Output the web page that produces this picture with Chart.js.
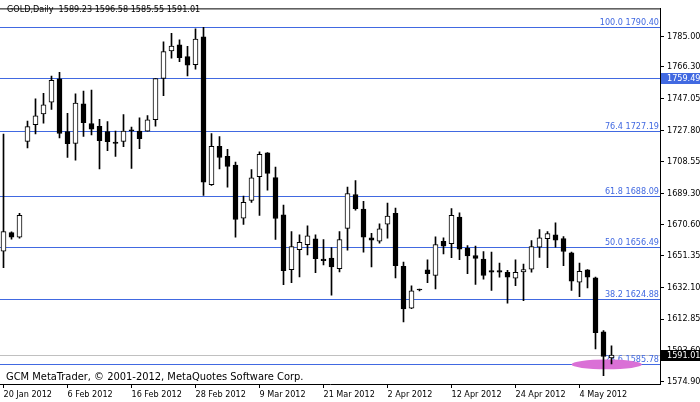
<!DOCTYPE html>
<html>
<head>
<meta charset="utf-8">
<script src="https://cdn.jsdelivr.net/npm/chart.js@4.4.1/dist/chart.umd.min.js"></script>
<style>
  html, body { margin: 0; padding: 0; background: #fff; overflow: hidden; }
  canvas { display: block; }
</style>
</head>
<body>
<canvas id="goldChart" width="700" height="402"></canvas>
<script>
// GOLD daily bars (index 0 = leftmost bar)
const opens = [
  1654.2, 1665.5, 1662.7, 1721.0, 1731.2, 1737.8, 1744.9, 1759.1, 1727.0, 1719.8,
  1743.9, 1731.9, 1730.2, 1727.0, 1720.6, 1721.0, 1727.6, 1727.3, 1727.3, 1734.2,
  1759.3, 1776.0, 1779.8, 1772.6, 1767.7, 1784.6, 1694.7, 1718.0, 1712.0, 1706.6,
  1674.3, 1685.1, 1699.5, 1714.0, 1699.0, 1676.3, 1643.0, 1655.2, 1658.2, 1661.8,
  1649.4, 1650.0, 1643.6, 1668.1, 1688.7, 1679.9, 1662.4, 1660.3, 1670.7, 1677.3,
  1645.0, 1619.6, 1630.6, 1642.8, 1639.4, 1660.2, 1658.8, 1674.9, 1656.0, 1651.6,
  1649.4, 1642.4, 1642.4, 1641.4, 1637.8, 1641.6, 1643.2, 1656.6, 1661.8, 1664.2,
  1661.9, 1653.2, 1635.4, 1642.8, 1638.0, 1605.1, 1589.23
];
const highs = [
  1725.4, 1666.0, 1677.3, 1733.3, 1746.9, 1750.3, 1760.8, 1763.1, 1738.1, 1749.9,
  1751.7, 1752.3, 1734.5, 1733.1, 1727.3, 1737.3, 1729.7, 1735.4, 1736.7, 1759.3,
  1781.6, 1786.8, 1782.8, 1778.8, 1789.5, 1790.4, 1725.8, 1724.0, 1716.2, 1708.4,
  1687.7, 1703.8, 1714.6, 1714.2, 1705.4, 1682.3, 1666.1, 1664.2, 1669.7, 1664.2,
  1661.3, 1656.4, 1666.1, 1693.2, 1697.2, 1684.5, 1665.1, 1670.9, 1683.5, 1680.5,
  1647.6, 1633.2, 1631.2, 1649.0, 1663.0, 1662.4, 1680.1, 1677.5, 1657.6, 1657.3,
  1654.0, 1653.6, 1647.0, 1642.6, 1649.0, 1646.4, 1660.6, 1667.3, 1666.1, 1671.5,
  1663.1, 1653.6, 1647.0, 1643.0, 1638.4, 1605.9, 1596.58
];
const lows = [
  1644.2, 1661.5, 1662.1, 1717.0, 1725.5, 1732.1, 1740.5, 1723.2, 1711.2, 1709.6,
  1724.0, 1724.9, 1704.2, 1715.4, 1711.8, 1717.8, 1704.6, 1716.6, 1727.3, 1730.3,
  1748.9, 1771.6, 1769.6, 1760.8, 1765.0, 1688.1, 1694.2, 1704.2, 1693.2, 1662.7,
  1670.5, 1683.9, 1675.9, 1691.4, 1661.3, 1633.8, 1635.0, 1638.6, 1652.0, 1641.2,
  1645.8, 1627.4, 1641.6, 1654.9, 1679.1, 1653.6, 1644.6, 1659.1, 1662.1, 1638.0,
  1611.1, 1619.3, 1630.0, 1635.0, 1631.3, 1652.6, 1650.2, 1649.0, 1640.6, 1634.0,
  1637.2, 1630.4, 1638.4, 1622.6, 1633.2, 1624.1, 1641.4, 1650.4, 1644.2, 1656.6,
  1645.4, 1630.4, 1626.5, 1631.9, 1594.8, 1578.4, 1585.55
];
const closes = [
  1666.1, 1662.7, 1676.1, 1730.0, 1736.6, 1743.3, 1758.1, 1725.8, 1719.6, 1744.3,
  1732.4, 1728.5, 1721.4, 1720.8, 1719.8, 1727.3, 1727.4, 1722.6, 1734.2, 1759.3,
  1775.6, 1779.0, 1771.9, 1767.4, 1783.2, 1696.2, 1718.0, 1711.2, 1705.8, 1673.5,
  1683.9, 1698.9, 1713.2, 1701.6, 1674.1, 1642.4, 1657.0, 1659.6, 1663.6, 1649.6,
  1648.4, 1644.6, 1661.2, 1689.3, 1680.1, 1662.7, 1660.9, 1667.8, 1675.5, 1645.4,
  1619.0, 1630.1, 1630.6, 1640.6, 1658.2, 1657.3, 1676.1, 1655.5, 1651.4, 1649.8,
  1639.4, 1641.4, 1641.4, 1638.4, 1641.4, 1643.0, 1657.0, 1662.4, 1664.9, 1660.9,
  1654.0, 1636.0, 1642.0, 1638.4, 1604.7, 1590.1, 1591.01
];

// axis labels
const xTickIndex = [0, 8, 16, 24, 32, 40, 48, 56, 64, 72];
const xTickLabels = ['20 Jan 2012', '6 Feb 2012', '16 Feb 2012', '28 Feb 2012', '9 Mar 2012',
  '21 Mar 2012', '2 Apr 2012', '12 Apr 2012', '24 Apr 2012', '4 May 2012'];
const yTicks = [1785.00, 1766.30, 1747.05, 1727.80, 1708.55, 1689.30, 1670.60, 1651.35,
  1632.10, 1612.85, 1593.60, 1574.90];

// objects on the chart
const fibPercents = ['100.0', '76.4', '61.8', '50.0', '38.2', '23.6'];
const fibPrices = [1790.40, 1727.19, 1688.09, 1656.49, 1624.88, 1585.78];
const hLinePrice = 1759.49;
const bidPrice = 1591.01;
const ellipseCenter = [75.4, 1585.3];
const ellipseRadius = [4.4, 3.0];

const FONT_FAMILY = '"DejaVu Sans Condensed", "Liberation Sans", sans-serif';
const FONT = '9px ' + FONT_FAMILY;
const BLUE = '#4169e1';

Chart.defaults.font.family = FONT_FAMILY;
Chart.defaults.font.size = 9;
Chart.defaults.color = '#000';

const bodyColors = opens.map((o, i) => closes[i] > o ? '#ffffff' : '#000000');

const overlay = {
  id: 'overlay',
  beforeDatasetsDraw(chart) {
    const { ctx, chartArea: a, scales: { x, y } } = chart;
    ctx.save();
    ctx.beginPath();
    ctx.rect(a.left, a.top, a.right - a.left, a.bottom - a.top);
    ctx.clip();
    ctx.lineWidth = 1;

    // bid line
    let py = Math.round(y.getPixelForValue(bidPrice)) + 0.5;
    ctx.strokeStyle = '#c0c0c0';
    ctx.beginPath(); ctx.moveTo(a.left, py); ctx.lineTo(a.right, py); ctx.stroke();

    // horizontal line + fibo levels
    ctx.strokeStyle = BLUE;
    [hLinePrice].concat(fibPrices).forEach(p => {
      const yy = Math.round(y.getPixelForValue(p)) + 0.5;
      ctx.beginPath(); ctx.moveTo(a.left, yy); ctx.lineTo(a.right, yy); ctx.stroke();
    });
    ctx.font = FONT;
    ctx.fillStyle = BLUE;
    ctx.textAlign = 'right';
    ctx.textBaseline = 'alphabetic';
    fibPrices.forEach((p, i) => {
      const yy = Math.round(y.getPixelForValue(p));
      ctx.fillText(fibPercents[i] + ' ' + p.toFixed(2), a.right - 1, yy - 2);
    });

    // ellipse
    const cx = x.getPixelForValue(ellipseCenter[0]);
    const cy = y.getPixelForValue(ellipseCenter[1]);
    const rx = x.getPixelForValue(ellipseCenter[0] + ellipseRadius[0]) - cx;
    const ry = cy - y.getPixelForValue(ellipseCenter[1] + ellipseRadius[1]);
    ctx.fillStyle = '#da70d6';
    ctx.beginPath(); ctx.ellipse(cx, cy, rx, ry, 0, 0, Math.PI * 2); ctx.fill();
    ctx.restore();
  },
  afterDraw(chart) {
    const { ctx, chartArea: a, scales: { y } } = chart;
    ctx.save();
    ctx.lineWidth = 1;
    ctx.strokeStyle = '#000';
    ctx.beginPath();
    ctx.moveTo(a.left, a.top + 0.5);
    ctx.lineTo(a.right, a.top + 0.5);
    ctx.stroke();

    ctx.font = FONT;
    ctx.fillStyle = '#000';
    ctx.textAlign = 'left';
    ctx.textBaseline = 'middle';
    const n = closes.length - 1;
    ctx.fillText('GOLD,Daily  ' + [opens[n], highs[n], lows[n], closes[n]].map(v => v.toFixed(2)).join(' '), 7, 10);
    ctx.font = '11px ' + FONT_FAMILY;
    ctx.fillText('GCM MetaTrader, \u00a9 2001-2012, MetaQuotes Software Corp.', 6, 377);

    // price tags on the axis
    ctx.font = FONT;
    const tag = (price, bg) => {
      const yy = Math.round(y.getPixelForValue(price));
      ctx.fillStyle = bg;
      ctx.fillRect(a.right + 1, yy - 5, chart.width - a.right - 1, 11);
      ctx.fillStyle = '#fff';
      ctx.fillText(price.toFixed(2), a.right + 7, yy + 0.5);
    };
    tag(hLinePrice, BLUE);
    tag(bidPrice, '#000');
    ctx.restore();
  }
};

const xMin = -0.4375;
const xMax = xMin + 660 / 8;

new Chart(document.getElementById('goldChart'), {
  type: 'bar',
  data: {
    datasets: [
      {
        label: 'body',
        data: opens.map((o, i) => ({ x: i, y: [o, closes[i]] })),
        backgroundColor: bodyColors,
        borderColor: '#000',
        borderWidth: 1,
        borderSkipped: false,
        barThickness: 5,
        minBarLength: 1,
        grouped: false
      },
      {
        label: 'wick',
        data: lows.map((l, i) => ({ x: i, y: [l, highs[i]] })),
        backgroundColor: '#000',
        borderWidth: 0,
        barThickness: 1,
        grouped: false
      }
    ]
  },
  options: {
    responsive: false,
    devicePixelRatio: 1,
    animation: false,
    events: [],
    layout: { padding: { top: 2, left: 0, right: 0, bottom: 0 } },
    plugins: { legend: { display: false }, tooltip: { enabled: false } },
    scales: {
      x: {
        type: 'linear',
        min: xMin,
        max: xMax,
        offset: false,
        grid: { offset: false, drawOnChartArea: false, tickLength: 4, color: '#000' },
        border: { color: '#000' },
        ticks: {
          autoSkip: false,
          maxRotation: 0,
          align: 'start',
          padding: 1,
          callback: v => xTickLabels[xTickIndex.indexOf(v)]
        },
        afterBuildTicks: s => { s.ticks = xTickIndex.map(v => ({ value: v })); },
        afterFit: s => { s.height = 18; }
      },
      y: {
        position: 'right',
        min: 1573.39,
        max: 1801.94,
        grid: { drawOnChartArea: false, tickLength: 4, color: '#000' },
        border: { color: '#000' },
        ticks: { padding: 3, callback: v => v.toFixed(2) },
        afterBuildTicks: s => { s.ticks = yTicks.map(v => ({ value: v })); },
        afterFit: s => { s.width = 40; }
      }
    }
  },
  plugins: [overlay]
});
</script>
</body>
</html>
